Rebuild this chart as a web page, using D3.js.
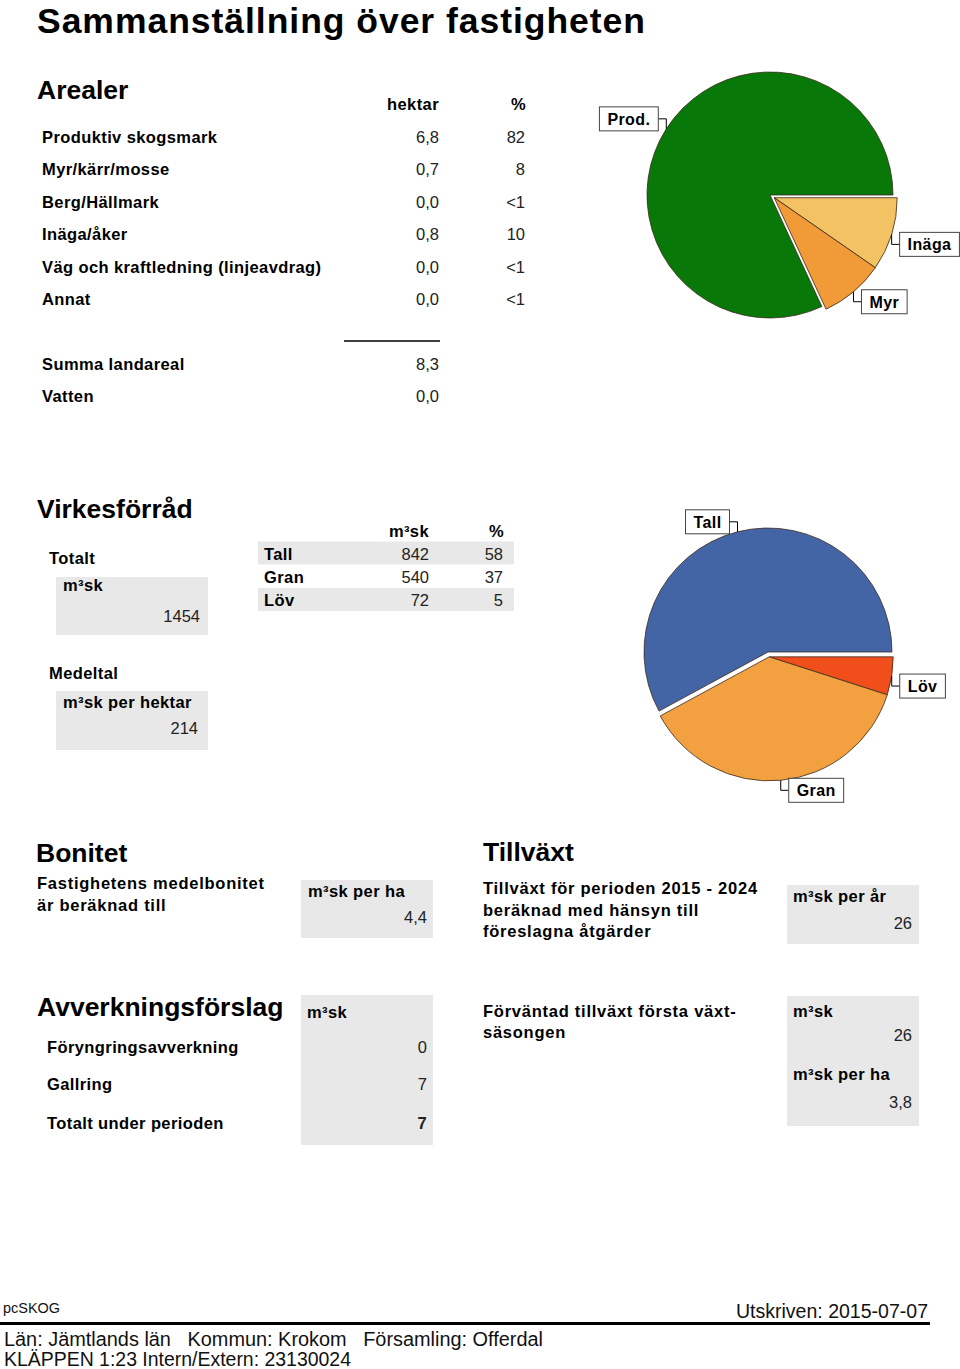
<!DOCTYPE html>
<html>
<head>
<meta charset="utf-8">
<script src="https://cdn.jsdelivr.net/npm/d3@7"></script>
<style>
  body { margin: 0; background: #fff; }
  text { font-family: "Liberation Sans", Arial, Helvetica, sans-serif; fill: #000; }
  .b { font-weight: bold; letter-spacing: 0.4px; }
  .p { letter-spacing: 0.75px; }
  .h { font-weight: bold; font-size: 26.5px; }
  .t { font-size: 16.5px; }
  .v { font-size: 16.5px; fill: #222; }
  .foot { font-size: 20px; fill: #111; }
</style>
</head>
<body>
<div id="chart"></div>
<script>
// ---- data ----
var arealLabels = ["Produktiv skogsmark", "Myr/kärr/mosse", "Berg/Hällmark", "Inäga/åker",
                   "Väg och kraftledning (linjeavdrag)", "Annat"];
var arealHektar = [6.8, 0.7, 0.0, 0.8, 0.0, 0.0];
var arealProcent = ["82", "8", "<1", "10", "<1", "<1"];
var summaLabels = ["Summa landareal", "Vatten"];
var summaHektar = [8.3, 0.0];

// pie order, clockwise from 3 o'clock
var areaPieLabels = ["Inäga", "Myr", "Prod."];
var areaPieValues = [0.8, 0.7, 6.8];
var areaPieColors = ["#f2c263", "#f09a38", "#087808"];
var areaPieExplode = [true, true, false];

var tradslag = ["Tall", "Gran", "Löv"];
var tradslagVolym = [842, 540, 72];
var tradslagProcent = [58, 37, 5];
var tradslagColors = ["#4465a5", "#f2a040", "#f04e1a"];
var tradslagExplode = [false, true, true];
var virkePieOrder = [2, 1, 0];   // Löv, Gran, Tall clockwise from 3 o'clock

var totalVolym = 1454;
var volymPerHektar = 214;
var bonitet = 4.4;
var tillvaxtPerAr = 26;
var tillvaxtForsta = 26;
var tillvaxtForstaPerHa = 3.8;
var avvLabels = ["Föryngringsavverkning", "Gallring", "Totalt under perioden"];
var avvVolym = [0, 7, 7];

var comma1 = function(v) { return d3.format(".1f")(v).replace(".", ","); };

var svg = d3.select("#chart").append("svg")
  .attr("width", 960)
  .attr("height", 1369);

svg.append("rect").attr("width", 960).attr("height", 1369).attr("fill", "#fff");

function txt(x, y, s, cls, anchor) {
  return svg.append("text")
    .attr("x", x).attr("y", y)
    .attr("class", cls || "")
    .attr("text-anchor", anchor || "start")
    .text(s);
}
function box(x0, y0, x1, y1) {
  svg.append("rect")
    .attr("x", x0).attr("y", y0)
    .attr("width", x1 - x0).attr("height", y1 - y0)
    .attr("fill", "#e8e8e8");
}

// title
txt(37, 32.5, "Sammanställning över fastigheten", "b")
  .style("font-size", "35.5px").style("letter-spacing", "0px")
  .attr("textLength", 608).attr("lengthAdjust", "spacing");

// ---- Arealer ----
txt(37, 99, "Arealer", "h");
txt(439, 110, "hektar", "b t", "end");
txt(526, 110, "%", "b t", "end");

var yAreal = d3.scaleLinear().domain([0, arealLabels.length - 1]).range([143, 305]);
var arealRows = svg.append("g").selectAll("g").data(arealLabels).enter().append("g");
arealRows.append("text").attr("class", "b t").attr("x", 42).attr("y", function(d, i) { return yAreal(i); })
  .text(function(d) { return d; });
arealRows.append("text").attr("class", "v").attr("x", 439).attr("text-anchor", "end")
  .attr("y", function(d, i) { return yAreal(i); })
  .text(function(d, i) { return comma1(arealHektar[i]); });
arealRows.append("text").attr("class", "v").attr("x", 525).attr("text-anchor", "end")
  .attr("y", function(d, i) { return yAreal(i); })
  .text(function(d, i) { return arealProcent[i]; });

svg.append("line").attr("x1", 344).attr("x2", 440).attr("y1", 341).attr("y2", 341)
  .attr("stroke", "#000").attr("stroke-width", 1.5);

var ySumma = d3.scaleLinear().domain([0, 1]).range([370, 402]);
summaLabels.forEach(function(s, i) {
  txt(42, ySumma(i), s, "b t");
  txt(439, ySumma(i), comma1(summaHektar[i]), "v", "end");
});

// ---- pies ----
function drawPie(cx, cy, r, items, explodeDist) {
  var arcs = d3.pie().sort(null).value(function(d) { return d.value; })
    .startAngle(Math.PI / 2).endAngle(Math.PI / 2 + 2 * Math.PI)(items);

  var ex = arcs.filter(function(a) { return a.data.explode; });
  var exMid = (d3.min(ex, function(a) { return a.startAngle; }) + d3.max(ex, function(a) { return a.endAngle; })) / 2;
  var off = [explodeDist * Math.sin(exMid), -explodeDist * Math.cos(exMid)];

  var arc = d3.arc().innerRadius(0).outerRadius(r);
  var g = svg.append("g").attr("transform", "translate(" + cx + "," + cy + ")");

  var slices = g.selectAll("g.slice").data(arcs).enter().append("g")
    .attr("class", "slice")
    .attr("transform", function(a) {
      return a.data.explode ? "translate(" + off[0] + "," + off[1] + ")" : null;
    });
  slices.append("path")
    .attr("d", arc)
    .attr("fill", function(a) { return a.data.color; })
    .attr("stroke", "#3a2a1c")
    .attr("stroke-width", 0.8);

  // callout labels with elbow connectors
  slices.each(function(a) {
    var s = d3.select(this);
    var m = (a.startAngle + a.endAngle) / 2;
    var p0 = [r * Math.sin(m), -r * Math.cos(m)];
    var p1 = [p0[0], p0[1] + (Math.cos(m) > 0 ? -10 : 10)];
    var side = Math.sin(m) < 0 ? -1 : 1;
    var p2 = [p1[0] + side * 8, p1[1]];
    s.append("path")
      .attr("d", "M" + p0 + "L" + p1 + "L" + p2)
      .attr("fill", "none").attr("stroke", "#000").attr("stroke-width", 1);
    var lb = s.append("g");
    var rect = lb.append("rect").attr("fill", "#fff").attr("stroke", "#444").attr("stroke-width", 1);
    var t = lb.append("text").attr("class", "b").style("font-size", "16px").text(a.data.label);
    var w = t.node().getComputedTextLength() + 16;
    var x0 = side < 0 ? p2[0] - w : p2[0];
    rect.attr("x", x0).attr("y", p2[1] - 12).attr("width", w).attr("height", 24);
    t.attr("x", x0 + w / 2).attr("y", p2[1] + 6).attr("text-anchor", "middle");
  });
}

drawPie(770, 195, 123, areaPieLabels.map(function(l, i) {
  return { label: l, value: areaPieValues[i], color: areaPieColors[i], explode: areaPieExplode[i] };
}), 5);

drawPie(768, 652, 124, virkePieOrder.map(function(i) {
  return { label: tradslag[i], value: tradslagVolym[i], color: tradslagColors[i], explode: tradslagExplode[i] };
}), 5);

// ---- Virkesförråd ----
txt(37, 518, "Virkesförråd", "h");
txt(49, 564, "Totalt", "b t");
box(56, 577, 208, 635);
txt(63, 591, "m³sk", "b t");
txt(200, 622, totalVolym, "v", "end");
txt(49, 679, "Medeltal", "b t");
box(56, 691, 208, 750);
txt(63, 708, "m³sk per hektar", "b t");
txt(198, 734, volymPerHektar, "v", "end");

txt(429, 537, "m³sk", "b t", "end");
txt(504, 537, "%", "b t", "end");
var yTrad = d3.scaleBand().domain(d3.range(tradslag.length)).range([541.5, 611]);
var tradRows = svg.append("g").selectAll("g").data(tradslag).enter().append("g");
tradRows.append("rect")
  .attr("x", 258).attr("width", 256)
  .attr("y", function(d, i) { return yTrad(i); })
  .attr("height", yTrad.bandwidth())
  .attr("fill", function(d, i) { return i % 2 === 0 ? "#e8e8e8" : "#fff"; });
tradRows.append("text").attr("class", "b t").attr("x", 264)
  .attr("y", function(d, i) { return yTrad(i) + 18.5; }).text(function(d) { return d; });
tradRows.append("text").attr("class", "v").attr("x", 429).attr("text-anchor", "end")
  .attr("y", function(d, i) { return yTrad(i) + 18.5; }).text(function(d, i) { return tradslagVolym[i]; });
tradRows.append("text").attr("class", "v").attr("x", 503).attr("text-anchor", "end")
  .attr("y", function(d, i) { return yTrad(i) + 18.5; }).text(function(d, i) { return tradslagProcent[i]; });

// ---- Bonitet ----
txt(36, 862, "Bonitet", "h");
txt(37, 889, "Fastighetens medelbonitet", "b t p");
txt(37, 911, "är beräknad till", "b t p");
box(301, 880, 433, 938);
txt(308, 897, "m³sk per ha", "b t");
txt(427, 923, comma1(bonitet), "v", "end");

// ---- Tillväxt ----
txt(483, 861, "Tillväxt", "h");
txt(483, 894, "Tillväxt för perioden 2015 - 2024", "b t p");
txt(483, 916, "beräknad med hänsyn till", "b t p");
txt(483, 937, "föreslagna åtgärder", "b t p");
box(787, 885, 919, 944);
txt(793, 902, "m³sk per år", "b t");
txt(912, 929, tillvaxtPerAr, "v", "end");

txt(483, 1017, "Förväntad tillväxt första växt-", "b t p");
txt(483, 1038, "säsongen", "b t p");
box(787, 996, 919, 1126);
txt(793, 1017, "m³sk", "b t");
txt(912, 1041, tillvaxtForsta, "v", "end");
txt(793, 1080, "m³sk per ha", "b t");
txt(912, 1108, comma1(tillvaxtForstaPerHa), "v", "end");

// ---- Avverkningsförslag ----
txt(37, 1016, "Avverkningsförslag", "h");
box(301, 995, 433, 1145);
txt(307, 1018, "m³sk", "b t");
var yAvv = d3.scaleOrdinal().domain(d3.range(avvLabels.length)).range([1053, 1090, 1129]);
avvLabels.forEach(function(s, i) {
  txt(47, yAvv(i), s, "b t");
  txt(427, yAvv(i), avvVolym[i], i === avvLabels.length - 1 ? "v b" : "v", "end");
});

// ---- footer ----
txt(3, 1313, "pcSKOG", "foot").style("font-size", "14px").attr("textLength", 57).attr("lengthAdjust", "spacingAndGlyphs");
txt(928, 1318, "Utskriven: 2015-07-07", "foot", "end").style("font-size", "19.5px")
  .attr("textLength", 192).attr("lengthAdjust", "spacingAndGlyphs");
svg.append("line").attr("x1", 0).attr("x2", 930).attr("y1", 1323.5).attr("y2", 1323.5)
  .attr("stroke", "#000").attr("stroke-width", 3);
txt(4, 1346, "Län: Jämtlands län   Kommun: Krokom   Församling: Offerdal", "foot")
  .attr("textLength", 539).attr("lengthAdjust", "spacingAndGlyphs").style("white-space", "pre");
txt(4, 1366, "KLÄPPEN 1:23 Intern/Extern: 23130024", "foot")
  .attr("textLength", 347).attr("lengthAdjust", "spacingAndGlyphs");
</script>
</body>
</html>
